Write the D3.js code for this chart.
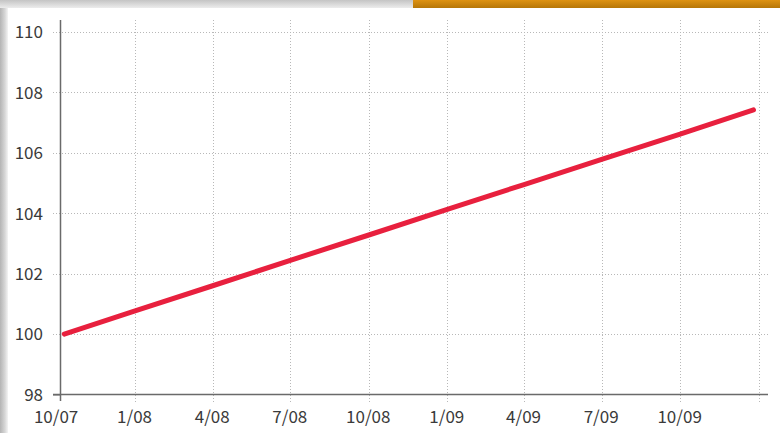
<!DOCTYPE html>
<html lang="en">
<head>
    <meta charset="UTF-8">
    <title>Index line chart</title>
    <script src="https://d3js.org/d3.v7.min.js"></script>
    <style>
        body { margin: 0; background: #fff; }
        .tick text { font-family: 'Noto Sans CJK JP', 'Noto Sans', sans-serif; font-size: 17px; fill: #3a3a3a; }
    </style>
</head>
<body>
    <div id="container"></div>
    <script>
        // data
        const dates = ['2007-10-10', '2008-01-01', '2008-04-01', '2008-07-01', '2008-10-01',
                       '2009-01-01', '2009-04-01', '2009-07-01', '2009-10-01', '2009-12-26'];
        const values = [100.0, 100.77, 101.6, 102.44, 103.28, 104.13, 104.95, 105.78, 106.62, 107.42];
        const yTicks = [98, 100, 102, 104, 106, 108, 110];
        const xTickDates = ['2007-10-01', '2008-01-01', '2008-04-01', '2008-07-01', '2008-10-01',
                            '2009-01-01', '2009-04-01', '2009-07-01', '2009-10-01'];
        const xGridDates = ['2008-01-01', '2008-04-01', '2008-07-01', '2008-10-01',
                            '2009-01-01', '2009-04-01', '2009-07-01', '2009-10-01', '2010-01-01'];

        const parse = d3.utcParse('%Y-%m-%d');
        const series = dates.map((d, i) => ({date: parse(d), value: values[i]}));

        const width = 780, height = 433;
        const svg = d3.select('#container').append('svg')
            .attr('width', width).attr('height', height);

        // frame: shadows and orange strip
        const defs = svg.append('defs');
        const lg = defs.append('linearGradient').attr('id', 'leftShadow');
        lg.append('stop').attr('offset', '0%').attr('stop-color', '#b4b4b4');
        lg.append('stop').attr('offset', '60%').attr('stop-color', '#d6d6d6');
        lg.append('stop').attr('offset', '100%').attr('stop-color', '#f4f4f4');
        const tg = defs.append('linearGradient').attr('id', 'topShadow')
            .attr('x1', 0).attr('y1', 0).attr('x2', 0).attr('y2', 1);
        tg.append('stop').attr('offset', '0%').attr('stop-color', '#c4c4c4');
        tg.append('stop').attr('offset', '100%').attr('stop-color', '#ececec');
        const og = defs.append('linearGradient').attr('id', 'orange')
            .attr('x1', 0).attr('y1', 0).attr('x2', 0).attr('y2', 1);
        og.append('stop').attr('offset', '0%').attr('stop-color', '#de9212');
        og.append('stop').attr('offset', '100%').attr('stop-color', '#b67608');

        svg.append('rect').attr('x', 0).attr('y', 0).attr('width', 8).attr('height', height)
            .attr('fill', 'url(#leftShadow)');
        svg.append('rect').attr('x', 0).attr('y', 0).attr('width', 413).attr('height', 8)
            .attr('fill', 'url(#topShadow)');
        svg.append('rect').attr('x', 413).attr('y', 0).attr('width', width - 413).attr('height', 8)
            .attr('fill', 'url(#orange)');

        // scales
        const x = d3.scaleUtc()
            .domain([parse('2007-10-05'), parse('2010-01-12')])
            .range([60, 768]);
        const y = d3.scaleLinear().domain([98, 110]).range([394.5, 32]);

        // grid
        svg.append('g')
            .selectAll('line')
            .data(yTicks.slice(1))
            .join('line')
            .attr('x1', 53).attr('x2', 769)
            .attr('y1', d => Math.round(y(d)) + 0.5).attr('y2', d => Math.round(y(d)) + 0.5)
            .attr('stroke', '#b8b8b8').attr('stroke-dasharray', '1,2');

        svg.append('g')
            .selectAll('line')
            .data(xGridDates.map(parse))
            .join('line')
            .attr('x1', d => Math.round(x(d)) + 0.5).attr('x2', d => Math.round(x(d)) + 0.5)
            .attr('y1', 20).attr('y2', 402)
            .attr('stroke', '#b8b8b8').attr('stroke-dasharray', '1,2');

        // axes
        const yAxis = svg.append('g')
            .attr('transform', 'translate(60,0)')
            .call(d3.axisLeft(y).tickValues(yTicks).tickSize(7).tickPadding(10).tickFormat(d3.format('d')));
        yAxis.select('.domain').remove();
        yAxis.selectAll('.tick line').attr('stroke', '#666');
        yAxis.selectAll('.tick line').filter(d => d !== 98).remove();
        yAxis.selectAll('text').attr('dy', '0.34em');

        const xAxis = svg.append('g')
            .attr('transform', 'translate(0,395)')
            .call(d3.axisBottom(x).tickValues(xTickDates.map(parse)).tickSize(0).tickPadding(16)
                .tickFormat(d3.utcFormat('%-m/%y')));
        xAxis.select('.domain').remove();
        xAxis.selectAll('text').attr('dy', '0.71em').attr('dx', -1);

        // axis lines
        svg.append('line').attr('x1', 60.5).attr('x2', 60.5).attr('y1', 20).attr('y2', 401)
            .attr('stroke', '#6a6a6a').attr('stroke-width', 1.5);
        svg.append('line').attr('x1', 53).attr('x2', 768).attr('y1', 394.5).attr('y2', 394.5)
            .attr('stroke', '#6a6a6a').attr('stroke-width', 1.5);

        // series line
        const line = d3.line()
            .x(d => x(d.date))
            .y(d => y(d.value));
        svg.append('path').datum(series)
            .attr('fill', 'none')
            .attr('stroke', '#e8203e')
            .attr('stroke-width', 5)
            .attr('stroke-linecap', 'round')
            .attr('stroke-linejoin', 'round')
            .attr('d', line);
    </script>
</body>
</html>
